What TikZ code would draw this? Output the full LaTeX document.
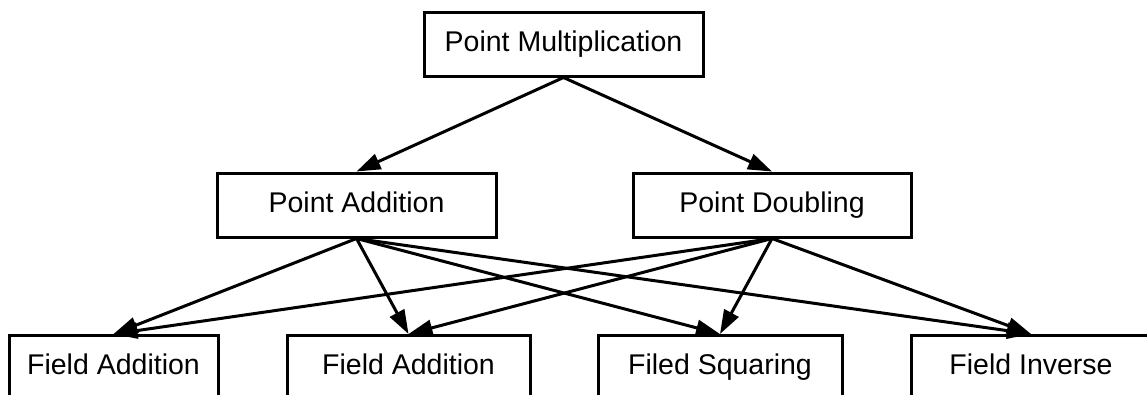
\documentclass[tikz,border=0pt]{standalone}
\usepackage{fontspec}
\setmainfont{Liberation Sans}
\usetikzlibrary{arrows.meta,positioning}
\tikzset{
  opbox/.style={draw,line width=3pt,minimum height=64pt,inner sep=0pt,
    text height=20pt,text depth=6pt,font=\fontsize{28.5}{34}\selectfont},
  fieldbox/.style={opbox,anchor=north},
  arrow/.style={-{Triangle[length=24pt,width=16pt]},line width=3pt}
}
\begin{document}
\begin{tikzpicture}[x=1pt,y=-1pt]
          \clip (0,0) rectangle (1147,394);
          \node[opbox,minimum width=279pt] (pmul) at (563.5,44) {Point Multiplication};
          \node[opbox,minimum width=279pt] (padd) at (356.5,205) {Point Addition};
          \node[opbox,minimum width=278pt] (pdbl) at (772,205) {Point Doubling};
          \node[fieldbox,minimum width=209pt] (fadd1) at (113.5,334) {Field Addition};
          \node[fieldbox,minimum width=243pt] (fadd2) at (408.5,334) {Field Addition};
          \node[fieldbox,minimum width=244pt] (fsqr) at (720,334) {Filed Squaring};
          \node[fieldbox,minimum width=240pt] (finv) at (1031,334) {Field Inverse};
          \draw[arrow] (pmul.south) -- (padd.north);
          \draw[arrow] (pmul.south) -- (pdbl.north);
          \draw[arrow] (padd.south) -- (fadd1.north);
          \draw[arrow] (padd.south) -- (fadd2.north);
          \draw[arrow] (padd.south) -- (fsqr.north);
          \draw[arrow] (padd.south) -- (finv.north);
          \draw[arrow] (pdbl.south) -- (fadd1.north);
          \draw[arrow] (pdbl.south) -- (fadd2.north);
          \draw[arrow] (pdbl.south) -- (fsqr.north);
          \draw[arrow] (pdbl.south) -- (finv.north);
        \end{tikzpicture}
\end{document}
